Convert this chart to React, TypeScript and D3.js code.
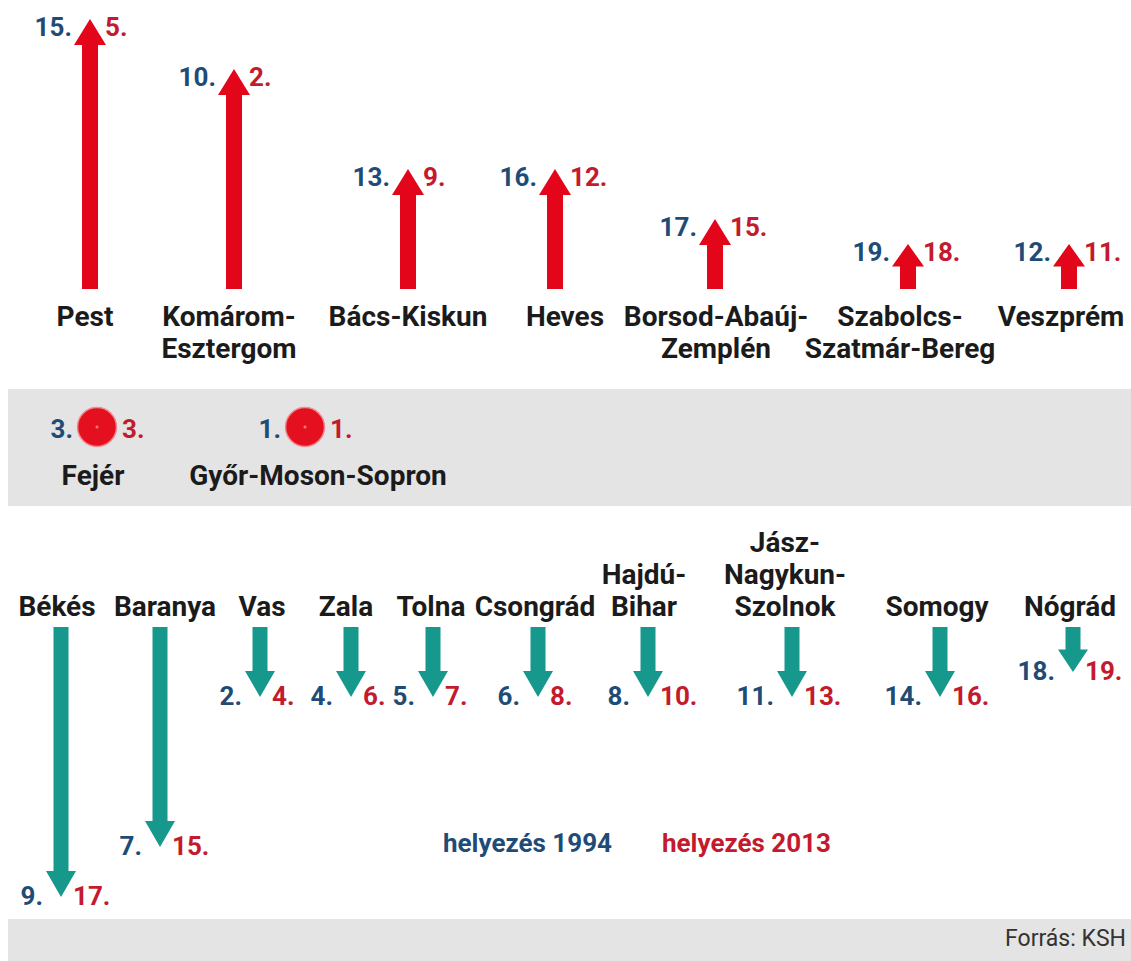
import * as d3 from 'd3'

const W = 1131, H = 961

// counties that moved up
const upNames = ['Pest', 'Komárom-\nEsztergom', 'Bács-Kiskun', 'Heves', 'Borsod-Abaúj-\nZemplén', 'Szabolcs-\nSzatmár-Bereg', 'Veszprém']
const up1994 = [15, 10, 13, 16, 17, 19, 12]
const up2013 = [5, 2, 9, 12, 15, 18, 11]

// counties that kept their place
const sameNames = ['Fejér', 'Győr-Moson-Sopron']
const same1994 = [3, 1]
const same2013 = [3, 1]

// counties that moved down
const downNames = ['Békés', 'Baranya', 'Vas', 'Zala', 'Tolna', 'Csongrád', 'Hajdú-\nBihar', 'Jász-\nNagykun-\nSzolnok', 'Somogy', 'Nógrád']
const down1994 = [9, 7, 2, 4, 5, 6, 8, 11, 14, 18]
const down2013 = [17, 15, 4, 6, 7, 8, 10, 13, 16, 19]
// arrow length as drawn, in places (Békés is drawn longer than its rank change)
const downDrawn = [10, 8, 2, 2, 2, 2, 2, 2, 2, 1]

const legendLabels = ['helyezés 1994', 'helyezés 2013']
const sourceLabel = 'Forrás: KSH'

const BLUE = '#1f4c76'
const RED = '#c41a2e'
const ARROW_RED = '#e3061a'
const TEAL = '#16988d'
const INK = '#1b1b1b'
const GREY = '#e4e4e4'
const FONT = 'Roboto, "Noto Sans", sans-serif'

// layout
const upX = d3.scaleOrdinal<string, number>().domain(upNames).range([90, 234, 408, 555, 715, 908, 1069])
const upLabelX = d3.scaleOrdinal<string, number>().domain(upNames).range([85, 229, 408, 565, 716, 900, 1061])
const sameX = d3.scaleOrdinal<string, number>().domain(sameNames).range([97, 305])
const sameLabelX = d3.scaleOrdinal<string, number>().domain(sameNames).range([93, 318])
const downX = d3.scaleOrdinal<string, number>().domain(downNames).range([61, 160, 260, 351, 433, 538, 648, 792, 940, 1073])
const downLabelX = d3.scaleOrdinal<string, number>().domain(downNames).range([57, 165, 262, 346, 431, 535, 644, 785, 937, 1070])

const len = d3.scaleLinear().domain([0, 10]).range([20, 270])

const UP_BASE = 289
const DOWN_TOP = 627
const LINE = 32

function arrowPath(cx: number, from: number, to: number, shaftHalf: number, headHalf: number) {
  const L = Math.abs(to - from)
  const dir = to < from ? -1 : 1
  const hh = Math.min(26, L * 0.5)
  const neck = to - dir * hh
  const p = d3.path()
  p.moveTo(cx - shaftHalf, from)
  p.lineTo(cx - shaftHalf, neck)
  p.lineTo(cx - headHalf, neck)
  p.lineTo(cx, to)
  p.lineTo(cx + headHalf, neck)
  p.lineTo(cx + shaftHalf, neck)
  p.lineTo(cx + shaftHalf, from)
  p.closePath()
  return p.toString()
}

// grow = 'down': first line sits on y; 'up': last line sits on y
function Label({ x, y, text, grow }: { x: number; y: number; text: string; grow: 'up' | 'down' }) {
  const lines = text.split('\n')
  const y0 = grow === 'down' ? y : y - (lines.length - 1) * LINE
  return (
    <text x={x} textAnchor="middle" fontFamily={FONT} fontWeight={700} fontSize={28} fill={INK}>
      {lines.map((l, i) => (
        <tspan key={i} x={x} y={y0 + i * LINE}>{l}</tspan>
      ))}
    </text>
  )
}

function Rank({ x, y, v, color, anchor }: { x: number; y: number; v: number; color: string; anchor: string }) {
  return (
    <text x={x} y={y} textAnchor={anchor} fontFamily={FONT} fontWeight={700} fontSize={26} fill={color}>
      {v}.
    </text>
  )
}

export default function App() {
  return (
    <svg width={W} height={H} style={{ position: 'absolute', left: 0, top: 0, background: '#fff' }}>
      {/* bands */}
      <rect x={8} y={389} width={W - 8} height={117} fill={GREY} />
      <rect x={8} y={919} width={W - 8} height={H - 919} fill={GREY} />

      {/* up */}
      {upNames.map((n, i) => {
        const cx = upX(n)
        const tip = UP_BASE - len(up1994[i] - up2013[i])
        return (
          <g key={n}>
            <path d={arrowPath(cx, UP_BASE, tip, 8, 16)} fill={ARROW_RED} />
            <Rank x={cx - 18} y={tip + 17} v={up1994[i]} color={BLUE} anchor="end" />
            <Rank x={cx + 15} y={tip + 17} v={up2013[i]} color={RED} anchor="start" />
            <Label x={upLabelX(n)} y={326} text={n} grow="down" />
          </g>
        )
      })}

      {/* unchanged */}
      {sameNames.map((n, i) => {
        const cx = sameX(n)
        return (
          <g key={n}>
            <circle cx={cx} cy={427} r={19.5} fill="#e5101f" stroke="#f08a92" strokeWidth={1.5} />
            <circle cx={cx} cy={427} r={1.5} fill="#f47a83" />
            <Rank x={cx - 24} y={438} v={same1994[i]} color={BLUE} anchor="end" />
            <Rank x={cx + 25} y={438} v={same2013[i]} color={RED} anchor="start" />
            <Label x={sameLabelX(n)} y={485} text={n} grow="down" />
          </g>
        )
      })}

      {/* down */}
      {downNames.map((n, i) => {
        const cx = downX(n)
        const tip = DOWN_TOP + len(downDrawn[i])
        return (
          <g key={n}>
            <path d={arrowPath(cx, DOWN_TOP, tip, 7.5, 15)} fill={TEAL} />
            <Rank x={cx - 18} y={tip + 8} v={down1994[i]} color={BLUE} anchor="end" />
            <Rank x={cx + 12} y={tip + 8} v={down2013[i]} color={RED} anchor="start" />
            <Label x={downLabelX(n)} y={616} text={n} grow="up" />
          </g>
        )
      })}

      {/* legend */}
      <text x={612} y={852} textAnchor="end" fontFamily={FONT} fontWeight={700} fontSize={26} fill={BLUE}>{legendLabels[0]}</text>
      <text x={662} y={852} textAnchor="start" fontFamily={FONT} fontWeight={700} fontSize={26} fill={RED}>{legendLabels[1]}</text>

      <text x={1126} y={946} textAnchor="end" fontFamily={FONT} fontSize={23} fill="#333">{sourceLabel}</text>
    </svg>
  )
}
